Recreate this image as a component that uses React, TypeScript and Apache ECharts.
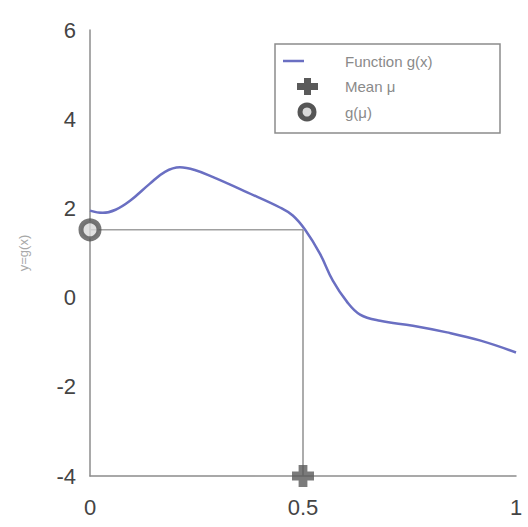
import React, { useEffect, useRef } from "react";
import * as echarts from "echarts";

const xs = [0, 0.03, 0.06, 0.094, 0.14, 0.176, 0.211, 0.246, 0.289, 0.369, 0.446, 0.476, 0.505, 0.54, 0.57, 0.603, 0.634, 0.681, 0.758, 0.838, 0.915, 1.0];
const gValues = [1.95, 1.9, 1.97, 2.17, 2.55, 2.82, 2.92, 2.86, 2.7, 2.36, 2.02, 1.84, 1.52, 0.98, 0.38, -0.09, -0.38, -0.52, -0.63, -0.78, -0.96, -1.23];
const meanMu = 0.5;
const gMu = 1.52;
const yMin = -4;
const xTicks = [0, 0.5, 1];
const yTicks = [-4, -2, 0, 2, 4, 6];
const legendLabels = ["Function g(x)", "Mean \u03bc", "g(\u03bc)"];
const yName = "y=g(x)";

const PLUS = "path://M3,0 H7 V3 H10 V7 H7 V10 H3 V7 H0 V3 H3 Z";

export default function App() {
  const ref = useRef<HTMLDivElement>(null);
  useEffect(() => {
    const chart = echarts.init(ref.current!, undefined, { renderer: "svg" });
    const lineData = xs.map((x, i) => [x, gValues[i]]);
    const textStyle = { fontFamily: "Liberation Sans", fontSize: 15, fill: "#8a8a8a" };
    chart.setOption({
      animation: false,
      backgroundColor: "#ffffff",
      grid: { left: 90, right: 12, top: 30, bottom: 51 },
      xAxis: {
        type: "value",
        min: 0,
        max: 1,
        interval: 0.5,
        splitLine: { show: false },
        axisTick: { show: false },
        axisLine: { show: true, onZero: false, lineStyle: { color: "#8c8c8c", width: 1.5 } },
        axisLabel: {
          color: "#444",
          fontSize: 22,
          fontFamily: "Liberation Sans",
          margin: 20,
          formatter: (v: number) => (xTicks.includes(v) ? String(v) : ""),
        },
      },
      yAxis: {
        type: "value",
        min: yMin,
        max: 6,
        interval: 2,
        name: yName,
        nameLocation: "middle",
        nameGap: 60,
        nameTextStyle: { color: "#a8a8a8", fontSize: 13, fontFamily: "Liberation Sans" },
        splitLine: { show: false },
        axisTick: { show: false },
        axisLine: { show: true, onZero: false, lineStyle: { color: "#8c8c8c", width: 1.5 } },
        axisLabel: {
          color: "#444",
          fontSize: 22,
          fontFamily: "Liberation Sans",
          margin: 14,
          formatter: (v: number) => (yTicks.includes(v) ? String(v) : ""),
        },
      },
      series: [
        {
          name: "guide-h",
          type: "line",
          data: [[0, gMu], [meanMu, gMu]],
          symbol: "none",
          lineStyle: { color: "#a0a0a0", width: 1.5 },
          silent: true,
        },
        {
          name: "guide-v",
          type: "line",
          data: [[meanMu, gMu], [meanMu, yMin]],
          symbol: "none",
          lineStyle: { color: "#909090", width: 1.5 },
          silent: true,
        },
        {
          name: legendLabels[0],
          type: "line",
          data: lineData,
          smooth: 0.4,
          symbol: "none",
          lineStyle: { color: "#6a6fc2", width: 2.5 },
        },
        {
          name: legendLabels[1],
          type: "scatter",
          data: [[meanMu, yMin]],
          symbol: PLUS,
          symbolSize: 22,
          itemStyle: { color: "#5a5a5a" },
          clip: false,
          z: 5,
        },
        {
          name: legendLabels[2],
          type: "scatter",
          data: [[0, gMu]],
          symbol: "circle",
          symbolSize: 18,
          itemStyle: { color: "#d8d8d8", borderColor: "#555", borderWidth: 5 },
          clip: false,
          z: 5,
        },
      ],
      graphic: [
        {
          type: "rect",
          shape: { x: 275, y: 44, width: 225, height: 89 },
          style: { fill: "#ffffff", stroke: "#8c8c8c", lineWidth: 1.5 },
          z: 10,
        },
        {
          type: "line",
          shape: { x1: 283, y1: 61, x2: 304, y2: 61 },
          style: { stroke: "#6a6fc2", lineWidth: 2.5 },
          z: 11,
        },
        {
          type: "polygon",
          shape: {
            points: [
              [304, 78], [311, 78], [311, 83], [318, 83], [318, 90], [311, 90],
              [311, 95], [304, 95], [304, 90], [297, 90], [297, 83], [304, 83],
            ],
          },
          style: { fill: "#5a5a5a" },
          z: 11,
        },
        {
          type: "circle",
          shape: { cx: 307, cy: 112, r: 7 },
          style: { fill: "#d8d8d8", stroke: "#555", lineWidth: 5 },
          z: 11,
        },
        { type: "text", x: 345, y: 61, style: { ...textStyle, text: legendLabels[0], verticalAlign: "middle" }, z: 11 },
        { type: "text", x: 345, y: 86, style: { ...textStyle, text: legendLabels[1], verticalAlign: "middle" }, z: 11 },
        { type: "text", x: 345, y: 112, style: { ...textStyle, text: legendLabels[2], verticalAlign: "middle" }, z: 11 },
      ],
    });
    return () => chart.dispose();
  }, []);
  return <div ref={ref} style={{ width: 528, height: 527, position: "fixed", left: 0, top: 0 }} />;
}
